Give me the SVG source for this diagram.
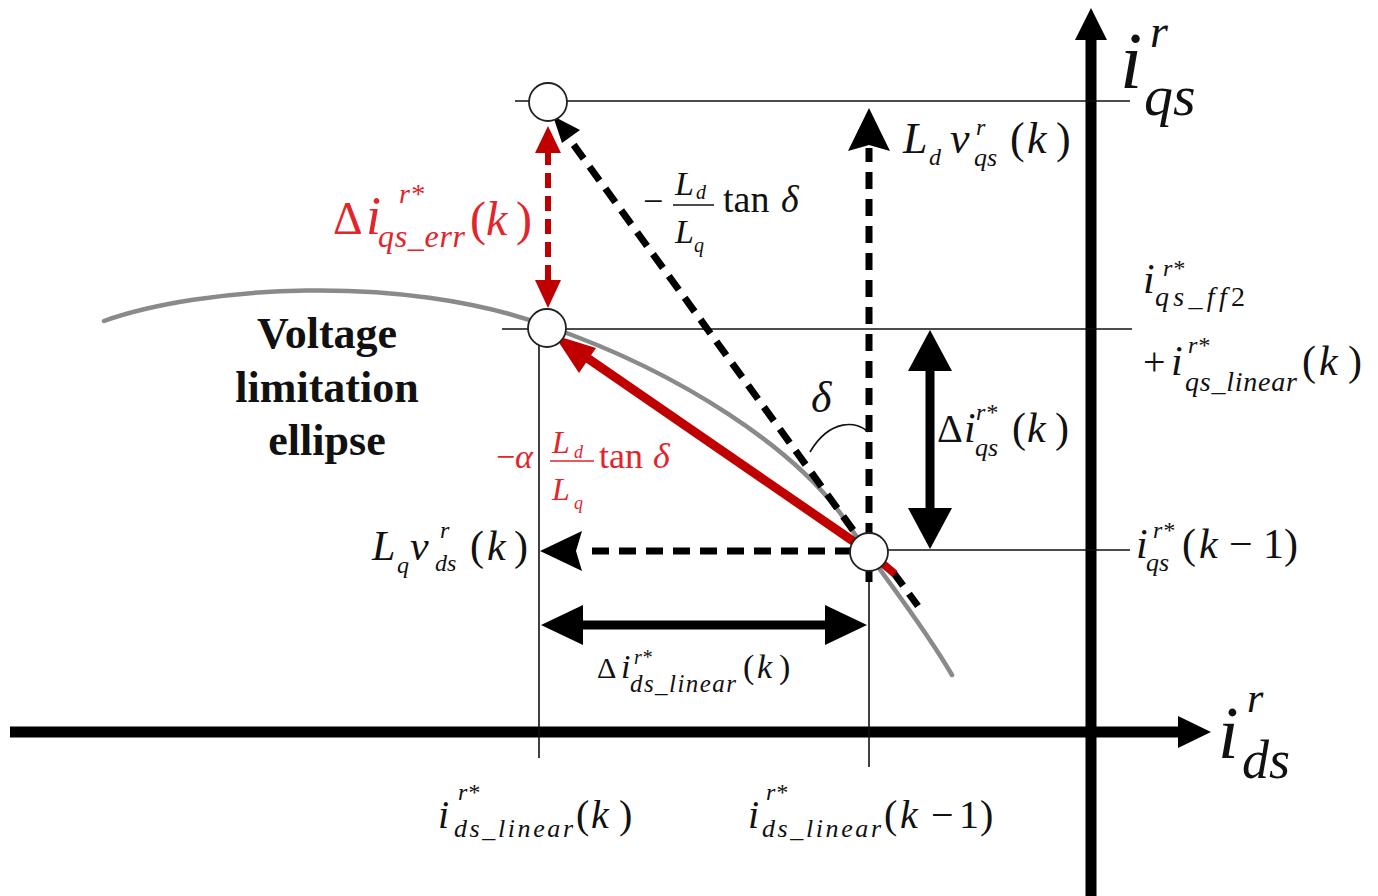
<svg xmlns="http://www.w3.org/2000/svg" width="1378" height="896" viewBox="0 0 1378 896">
<style>
.m{font-family:"Liberation Serif","Times New Roman",serif;font-style:italic;fill:#111}
.u{font-family:"Liberation Serif","Times New Roman",serif;font-style:normal;fill:#111}
.red{fill:#e3242b}
.b{font-family:"Liberation Serif","Times New Roman",serif;font-weight:bold;fill:#111}
.thin{stroke:#111;stroke-width:1.6;fill:none}
.dash{stroke:#000;stroke-width:7;stroke-dasharray:17 10;fill:none}
.rdash{stroke:#c00000;stroke-width:6;stroke-dasharray:15 8;fill:none}
.ah{fill:#000}
.rah{fill:#c00000}
.pt{fill:#fff;stroke:#222;stroke-width:1.8}
</style>
<rect width="1378" height="896" fill="#fff"/>

<g id="ellipse-curve">
<path d="M104,321 C200,287 400,272 547,326 C680,372 800,450 850,527 C880,572 920,620 952,675" stroke="#8a8a8a" stroke-width="4.5" fill="none" stroke-linecap="round"/>
</g>

<g id="axes">
<line x1="10" y1="732" x2="1184" y2="732" stroke="#000" stroke-width="11"/>
<polygon class="ah" points="1211,732 1178,716 1178,748"/>
<line x1="1091" y1="896" x2="1091" y2="34" stroke="#000" stroke-width="11"/>
<polygon class="ah" points="1091,8 1075,40 1107,40"/>
</g>

<g id="connectors">
<line class="thin" x1="515" y1="101" x2="1130" y2="101"/>
<line class="thin" x1="502" y1="329" x2="1132" y2="329"/>
<line class="thin" x1="869" y1="550" x2="1130" y2="550"/>
<line class="thin" x1="539" y1="329" x2="539" y2="758"/>
<line class="thin" x1="869" y1="552" x2="869" y2="767"/>

<path class="dash" d="M869,552 L568,137"/>
<polygon class="ah" points="553,116 580,130 562,143"/>
<path class="dash" d="M893,572 L918,606" stroke-dasharray="10 8"/>
<line x1="869" y1="552" x2="895" y2="574" stroke="#c00000" stroke-width="8"/>
<line class="dash" x1="869" y1="582" x2="869" y2="564" stroke-dasharray="14 4"/>

<path class="dash" d="M869,540 L869,148"/>
<polygon class="ah" points="869,108 848,151 869,145 890,151"/>

<path class="dash" d="M852,551 L582,551"/>
<polygon class="ah" points="540,551 582,531 576,551 582,571"/>

<path class="rdash" d="M548,150 L548,282"/>
<polygon class="rah" points="548,126 535,153 561,153"/>
<polygon class="rah" points="548,308 535,280 561,280"/>

<line x1="866" y1="550" x2="580" y2="353" stroke="#c00000" stroke-width="9"/>
<polygon class="rah" points="554,335 596,348 579,373"/>

<line x1="930" y1="366" x2="930" y2="512" stroke="#000" stroke-width="9"/>
<polygon class="ah" points="930,330 908,371 952,371"/>
<polygon class="ah" points="930,549 908,508 952,508"/>

<line x1="578" y1="625" x2="830" y2="625" stroke="#000" stroke-width="9"/>
<polygon class="ah" points="541,625 583,605 583,645"/>
<polygon class="ah" points="867,625 825,605 825,645"/>

<path d="M868,432 C858,421 830,418 810,452" class="thin" stroke-width="1.4"/>
</g>

<g id="point-top"><circle class="pt" cx="548" cy="102" r="19"/></g>
<g id="point-mid"><circle class="pt" cx="547" cy="328" r="19"/></g>
<g id="point-prev"><circle class="pt" cx="869" cy="552" r="19"/></g>

<g id="label-iqs-axis">
<text class="m" x="1120" y="88" font-size="80">i</text>
<text class="m" x="1150" y="47" font-size="46">r</text>
<text class="m" x="1144" y="115" font-size="58">qs</text>
</g>
<g id="label-ids-axis">
<text class="m" x="1218" y="758" font-size="74">i</text>
<text class="m" x="1247" y="712" font-size="42">r</text>
<text class="m" x="1242" y="778" font-size="54">ds</text>
</g>

<g id="label-ldvqs">
<text class="m" x="903" y="153" font-size="44">L</text>
<text class="m" x="929" y="165" font-size="24">d</text>
<text class="m" x="950" y="153" font-size="44">v</text>
<text class="m" x="976" y="135" font-size="24">r</text>
<text class="m" x="974" y="166" font-size="26">qs</text>
<text class="u" x="1010" y="153" font-size="44">(</text>
<text class="m" x="1027" y="153" font-size="44">k</text>
<text class="u" x="1056" y="153" font-size="44">)</text>
</g>

<g id="label-err">
<text class="u red" x="333" y="234" font-size="46">Δ</text>
<text class="m red" x="366" y="234" font-size="54">i</text>
<text class="m red" x="399" y="203" font-size="28">r*</text>
<text class="m red" x="378" y="247" font-size="32" textLength="87">qs_err</text>
<text class="u red" x="470" y="235" font-size="48">(</text>
<text class="m red" x="486" y="235" font-size="48">k</text>
<text class="u red" x="516" y="235" font-size="48">)</text>
</g>

<g id="label-slope">
<text class="u" x="643" y="213" font-size="36">−</text>
<text class="m" x="675" y="195" font-size="34">L</text>
<text class="m" x="696" y="199" font-size="20">d</text>
<line class="thin" x1="673" y1="205" x2="714" y2="205"/>
<text class="m" x="675" y="243" font-size="34">L</text>
<text class="m" x="694" y="252" font-size="20">q</text>
<text class="u" x="723" y="212" font-size="38">tan</text>
<text class="m" x="781" y="212" font-size="38">δ</text>
</g>

<g id="label-ellipse">
<text class="b" x="327" y="348" font-size="44" text-anchor="middle">Voltage</text>
<text class="b" x="327" y="402" font-size="44" text-anchor="middle">limitation</text>
<text class="b" x="327" y="455" font-size="44" text-anchor="middle">ellipse</text>
</g>

<g id="label-delta">
<text class="m" x="811" y="412" font-size="44">δ</text>
</g>

<g id="label-alpha-slope">
<text class="u red" x="496" y="468" font-size="34">−</text>
<text class="m red" x="515" y="468" font-size="34">α</text>
<text class="m red" x="552" y="453" font-size="32">L</text>
<text class="m red" x="574" y="458" font-size="18">d</text>
<line x1="550" y1="461" x2="594" y2="461" stroke="#e3242b" stroke-width="1.6"/>
<text class="m red" x="552" y="500" font-size="32">L</text>
<text class="m red" x="574" y="509" font-size="18">q</text>
<text class="u red" x="599" y="468" font-size="36">tan</text>
<text class="m red" x="653" y="468" font-size="36">δ</text>
</g>

<g id="label-lqvds">
<text class="m" x="372" y="560" font-size="42">L</text>
<text class="m" x="397" y="573" font-size="24">q</text>
<text class="m" x="410" y="560" font-size="42">v</text>
<text class="m" x="440" y="538" font-size="24">r</text>
<text class="m" x="435" y="571" font-size="24">ds</text>
<text class="u" x="470" y="560" font-size="42">(</text>
<text class="m" x="487" y="560" font-size="42">k</text>
<text class="u" x="514" y="560" font-size="42">)</text>
</g>

<g id="label-diqs">
<text class="u" x="937" y="442" font-size="40">Δ</text>
<text class="m" x="964" y="442" font-size="42">i</text>
<text class="m" x="976" y="420" font-size="24">r*</text>
<text class="m" x="975" y="456" font-size="26">qs</text>
<text class="u" x="1012" y="442" font-size="42">(</text>
<text class="m" x="1027" y="442" font-size="42">k</text>
<text class="u" x="1055" y="442" font-size="42">)</text>
</g>

<g id="label-ff2">
<text class="m" x="1143" y="293" font-size="42">i</text>
<text class="m" x="1163" y="276" font-size="24">r*</text>
<text class="m" x="1155" y="306" font-size="28" textLength="90">qs_ff<tspan class="u">2</tspan></text>
<text class="u" x="1143" y="375" font-size="40">+</text>
<text class="m" x="1171" y="375" font-size="42">i</text>
<text class="m" x="1188" y="353" font-size="24">r*</text>
<text class="m" x="1185" y="391" font-size="28" textLength="112">qs_linear</text>
<text class="u" x="1302" y="375" font-size="42">(</text>
<text class="m" x="1319" y="375" font-size="42">k</text>
<text class="u" x="1348" y="375" font-size="42">)</text>
</g>

<g id="label-iqs-prev">
<text class="m" x="1136" y="558" font-size="42">i</text>
<text class="m" x="1153" y="538" font-size="24">r*</text>
<text class="m" x="1146" y="571" font-size="26">qs</text>
<text class="u" x="1182" y="558" font-size="42">(</text>
<text class="m" x="1199" y="558" font-size="42">k</text>
<text class="u" x="1229" y="558" font-size="42">−</text>
<text class="u" x="1263" y="558" font-size="42">1</text>
<text class="u" x="1284" y="558" font-size="42">)</text>
</g>

<g id="label-dids">
<text class="u" x="597" y="678" font-size="30">Δ</text>
<text class="m" x="621" y="678" font-size="34">i</text>
<text class="m" x="634" y="664" font-size="20">r*</text>
<text class="m" x="630" y="692" font-size="25" textLength="106">ds_linear</text>
<text class="u" x="743" y="678" font-size="34">(</text>
<text class="m" x="757" y="678" font-size="34">k</text>
<text class="u" x="779" y="678" font-size="34">)</text>
</g>

<g id="label-ids-k">
<text class="m" x="438" y="828" font-size="40">i</text>
<text class="m" x="458" y="800" font-size="24">r*</text>
<text class="m" x="454" y="837" font-size="26" textLength="119">ds_linear</text>
<text class="u" x="576" y="828" font-size="40">(</text>
<text class="m" x="591" y="828" font-size="40">k</text>
<text class="u" x="619" y="828" font-size="40">)</text>
</g>

<g id="label-ids-prev">
<text class="m" x="748" y="828" font-size="40">i</text>
<text class="m" x="766" y="800" font-size="24">r*</text>
<text class="m" x="762" y="837" font-size="26" textLength="119">ds_linear</text>
<text class="u" x="884" y="828" font-size="40">(</text>
<text class="m" x="900" y="828" font-size="40">k</text>
<text class="u" x="931" y="828" font-size="40">−</text>
<text class="u" x="959" y="828" font-size="40">1</text>
<text class="u" x="980" y="828" font-size="40">)</text>
</g>
</svg>
